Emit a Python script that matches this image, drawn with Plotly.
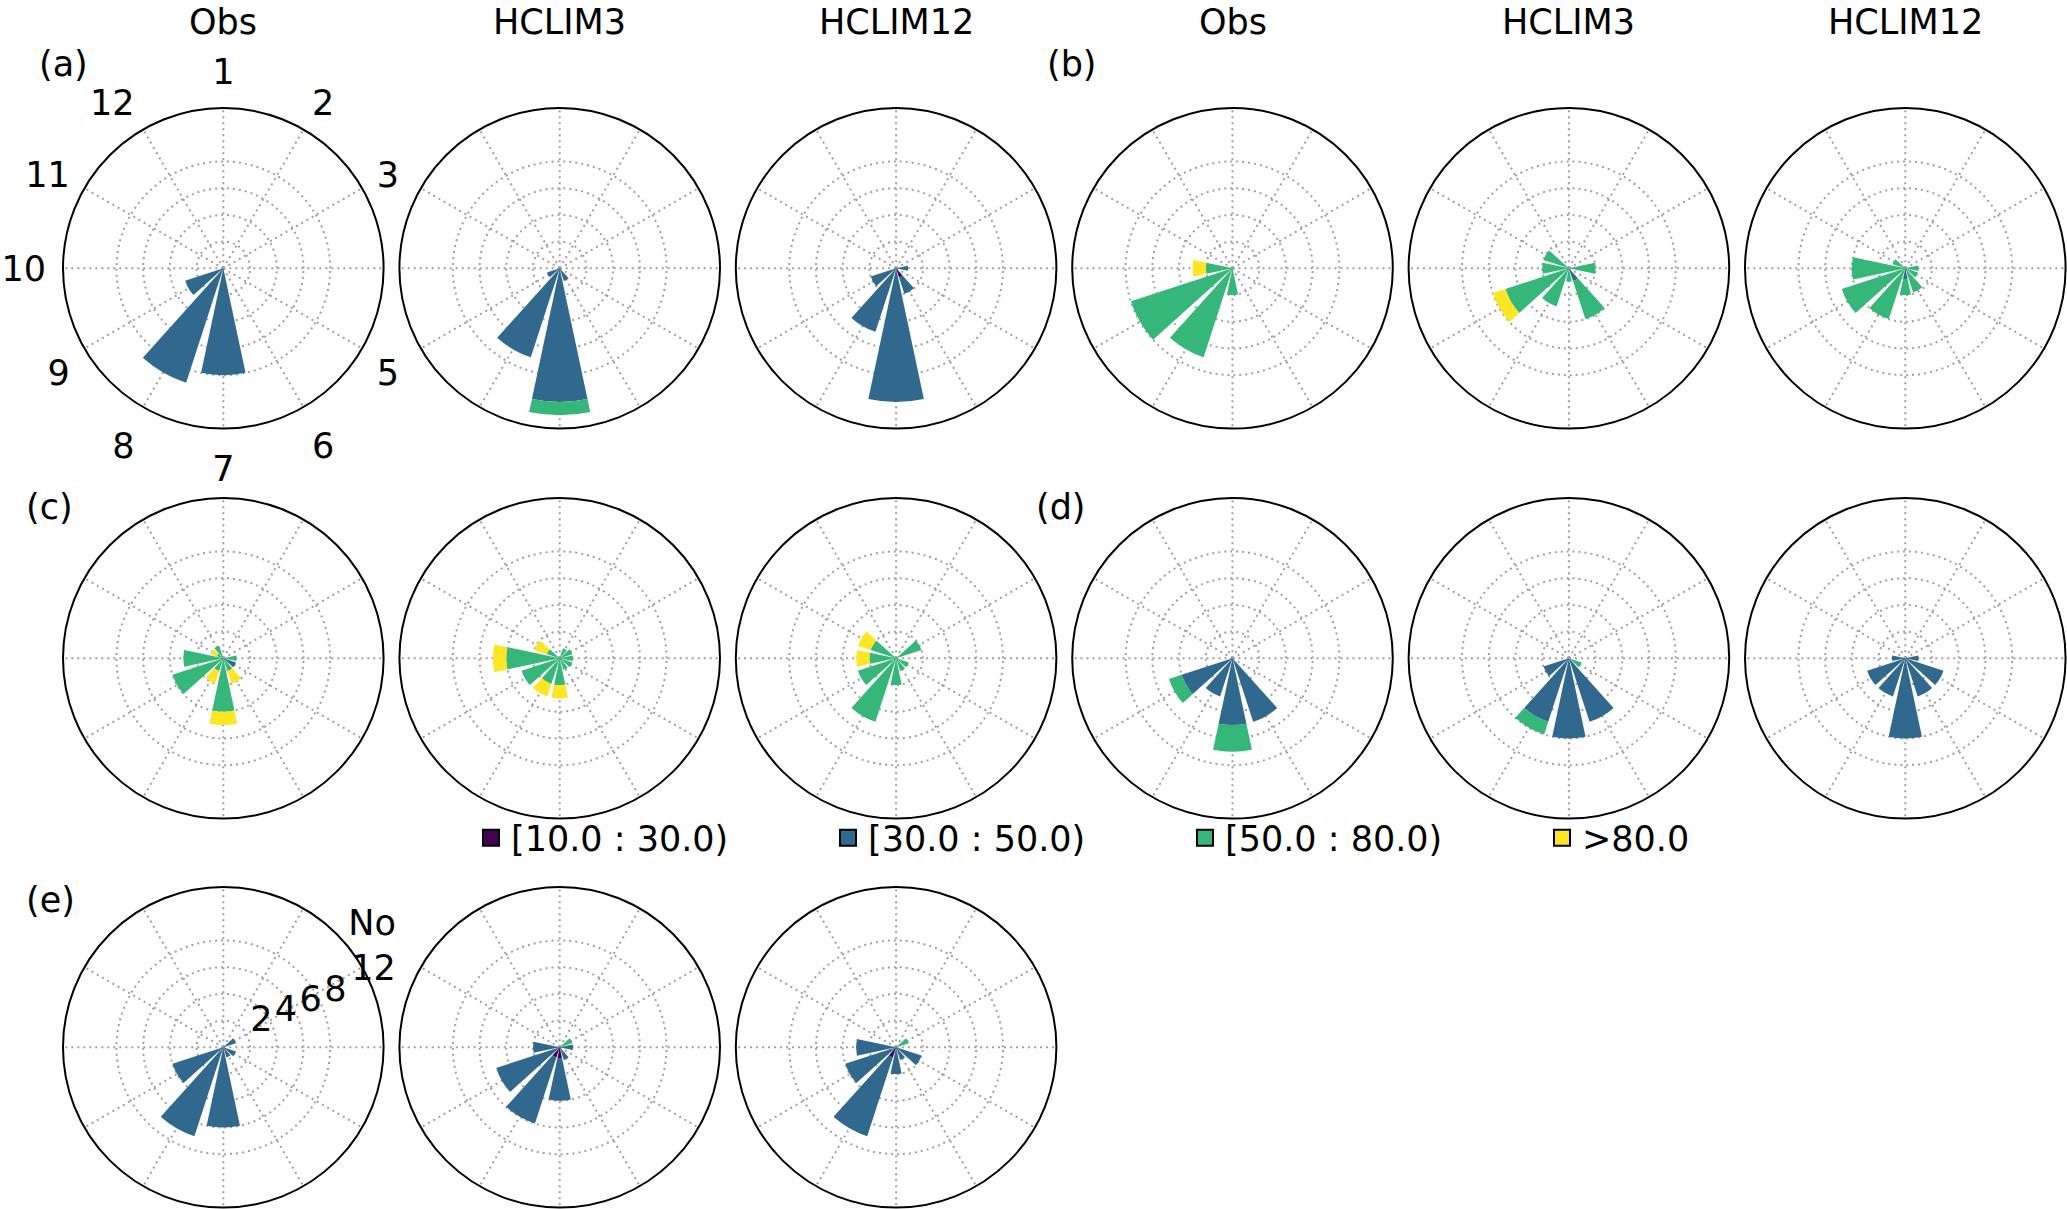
import plotly.graph_objects as go

# ---------------- data ----------------
SECTOR_LABELS = ["1", "2", "3", "", "5", "6", "7", "8", "9", "10", "11", "12"]  # "4" hidden behind next panel
SECTORS = list(range(1, 13))
CATEGORIES = ["[10.0 : 30.0)", "[30.0 : 50.0)", "[50.0 : 80.0)", ">80.0"]
COLORS = ["#440154", "#31688e", "#35b779", "#fde725"]
MODELS = ["Obs", "HCLIM3", "HCLIM12"]
PANEL_LETTERS = ["(a)", "(b)", "(c)", "(d)", "(e)"]
RADIAL_TICKS = [2, 4, 6, 8]
RADIAL_TOP_TICK = 12
RADIAL_TOP_LABEL = ["No", "12"]

Z = [0] * 12
#                 1  2  3  4    5    6    7    8    9   10   11   12
A_OBS_30 = [0, 0, 0, 0, 0, 0, 8, 9, 3, 0, 0, 0]
A_H3_30 = [0, 0, 0, 0, 0, 1, 10, 7, 1, 0, 0, 0]
A_H3_50 = [0, 0, 0, 0, 0, 0, 1, 0, 0, 0, 0, 0]
A_H12_10 = [0, 0, 0, 0, 0, 0.7, 0, 0, 0, 0, 0, 0]
A_H12_30 = [0, 0, 0, 0.9, 0, 1.3, 10, 5, 2, 0, 0, 0]

B_OBS_50 = [0, 0, 0, 0, 0, 0, 2, 7, 8, 2, 0, 0]
B_OBS_80 = [0, 0, 0, 0, 0, 0, 0, 0, 0, 1, 0, 0]
B_H3_30 = [0, 0, 0, 0, 0, 1, 0, 0, 0, 0, 0, 0]
B_H3_50 = [0, 0, 0, 2, 0, 3, 1, 3, 5, 2, 2, 0]
B_H3_80 = [0, 0, 0, 0, 0, 0, 0, 0, 1, 0, 0, 0]
B_H12_30 = [0, 0, 0, 0, 0, 0, 0.8, 0, 0, 0, 0, 0]
B_H12_50 = [0, 0, 0, 1, 1, 1.9, 1.2, 4, 5, 4, 1, 0]

C_OBS_30 = [0, 0, 0, 0, 1, 0, 0, 0, 0, 0, 0, 0]
C_OBS_50 = [0, 0, 0, 1, 0, 1, 4, 1, 4, 3, 0.5, 1]
C_OBS_80 = [0, 0, 0, 0, 0, 1, 1, 1, 0, 0, 0.5, 0]
C_H3_50 = [0, 0.8, 1, 1, 1, 0.9, 2, 2, 3, 4, 1, 0]
C_H3_80 = [0, 0, 0, 0, 0, 0, 1, 1, 0, 1, 1, 0]
C_H12_50 = [0, 0, 2, 0, 1, 1, 2, 5, 3, 2, 2, 0]
C_H12_80 = [0, 0, 0, 0, 0, 0, 0, 0, 0, 1, 1, 0]

D_OBS_30 = [0, 0, 0, 0, 0, 5, 5, 3, 4, 0, 0, 0]
D_OBS_50 = [0, 0, 0, 0, 0, 0, 2, 0, 1, 0, 0, 0]
D_H3_30 = [0, 0, 0, 0, 0, 5, 6, 5, 2, 0, 0, 0]
D_H3_50 = [0, 0, 0, 0, 1, 0, 0, 1, 0, 0, 0, 0]
D_H12_30 = [0, 0, 0, 1, 3, 3, 6, 3, 3, 1, 0, 0]

E_OBS_30 = [0, 0, 1, 0, 1, 0.8, 6, 7, 4, 0, 0, 0]
E_H3_10 = [0, 0, 0, 0, 0, 0, 0.8, 0.8, 0, 0, 0, 0]
E_H3_30 = [0, 0, 0, 1, 0, 1, 3.2, 5.2, 5, 2, 0, 0]
E_H3_50 = [0, 0, 1, 0, 0, 0, 0, 0, 0, 0, 0, 0]
E_H12_10 = [0, 0, 0, 0, 0, 0, 0, 0.8, 0, 0, 0, 0]
E_H12_30 = [0, 0, 0, 0, 2, 1, 2, 6.2, 4, 3, 0, 0]
E_H12_50 = [0, 0, 1, 0, 0, 0, 0, 0, 0, 0, 0, 0]

# panels in reading order: (row, col) -> four category series
PANELS = [
    (0, 0, [Z, A_OBS_30, Z, Z]),
    (0, 1, [Z, A_H3_30, A_H3_50, Z]),
    (0, 2, [A_H12_10, A_H12_30, Z, Z]),
    (0, 3, [Z, Z, B_OBS_50, B_OBS_80]),
    (0, 4, [Z, B_H3_30, B_H3_50, B_H3_80]),
    (0, 5, [Z, B_H12_30, B_H12_50, Z]),
    (1, 0, [Z, C_OBS_30, C_OBS_50, C_OBS_80]),
    (1, 1, [Z, Z, C_H3_50, C_H3_80]),
    (1, 2, [Z, Z, C_H12_50, C_H12_80]),
    (1, 3, [Z, D_OBS_30, D_OBS_50, Z]),
    (1, 4, [Z, D_H3_30, D_H3_50, Z]),
    (1, 5, [Z, D_H12_30, Z, Z]),
    (2, 0, [Z, E_OBS_30, Z, Z]),
    (2, 1, [E_H3_10, E_H3_30, E_H3_50, Z]),
    (2, 2, [E_H12_10, E_H12_30, E_H12_50, Z]),
]

# ---------------- layout constants ----------------
W, H = 2067, 1209
R = 160.3
CX0, DCX = 223.3, 336.4
CY = [268.3, 658.3, 1047.3]
FONT = "DejaVu Sans"
FS = 35
GRID = "#a0a0a0"
DASH = "2px,4px"
RLABEL_SHIFT = 34  # px: radial tick labels sit right of the rlabel line (matplotlib style)

theta = [(s - 1) * 30 for s in SECTORS]


def dom(cx, cy):
    return dict(x=[(cx - R) / W, (cx + R) / W], y=[1 - (cy + R) / H, 1 - (cy - R) / H])


fig = go.Figure()
layout = dict(
    width=W, height=H,
    margin=dict(l=0, r=0, t=0, b=0, pad=0, autoexpand=False),
    paper_bgcolor="white", plot_bgcolor="white",
    font=dict(family=FONT, size=FS, color="black"),
    showlegend=True,
)

for i, (row, col, series) in enumerate(PANELS):
    name = "polar" if i == 0 else f"polar{i + 1}"
    cx = CX0 + DCX * col
    cy = CY[row]
    first = (i == 0)
    layout[name] = dict(
        domain=dom(cx, cy),
        bgcolor="white",
        barmode="stack",
        angularaxis=dict(
            rotation=90, direction="clockwise",
            tickmode="array", tickvals=theta, ticktext=SECTOR_LABELS,
            showticklabels=first,
            ticks="outside" if first else "", ticklen=9, tickcolor="rgba(0,0,0,0)",
            tickfont=dict(family=FONT, size=FS, color="black"),
            showgrid=True, gridcolor=GRID, griddash=DASH, gridwidth=1.6,
            showline=True, linecolor="black", linewidth=2,
        ),
        radialaxis=dict(
            range=[0, 12],
            tickmode="array", tickvals=RADIAL_TICKS,
            showticklabels=False,
            angle=22.5, ticks="", showline=False,
            showgrid=True, gridcolor=GRID, griddash=DASH, gridwidth=1.6,
        ),
    )
    for k, vals in enumerate(series):
        if not any(vals):
            continue
        fig.add_trace(go.Barpolar(
            r=vals, theta=theta, width=[24] * 12,
            marker=dict(color=COLORS[k], line=dict(width=0)),
            subplot=name, showlegend=False, name=CATEGORIES[k],
        ))

# transparent overlay polar carrying the radial tick labels of panel (e) Obs
lab_name = f"polar{len(PANELS) + 1}"
layout[lab_name] = dict(
    domain=dom(CX0 + RLABEL_SHIFT, CY[2]),
    bgcolor="rgba(0,0,0,0)",
    angularaxis=dict(rotation=90, direction="clockwise", showline=False, showgrid=False,
                     showticklabels=False, ticks=""),
    radialaxis=dict(
        range=[0, 12], tickmode="array",
        tickvals=RADIAL_TICKS + [RADIAL_TOP_TICK],
        ticktext=[str(v) for v in RADIAL_TICKS] + ["<br>".join(RADIAL_TOP_LABEL)],
        showticklabels=True, angle=22.5, side="counterclockwise", tickangle=22.5,
        tickfont=dict(family=FONT, size=FS, color="black"),
        ticks="", showline=False, showgrid=False,
    ),
)
fig.add_trace(go.Scatterpolar(r=[None], theta=[None], mode="markers", subplot=lab_name,
                              showlegend=False, hoverinfo="skip"))

# legend entries
for k, cat in enumerate(CATEGORIES):
    fig.add_trace(go.Scatterpolar(
        r=[None], theta=[None], mode="markers", name=cat, subplot="polar",
        marker=dict(symbol="square", size=22, color=COLORS[k], line=dict(color="black", width=2)),
        showlegend=True,
    ))

layout["legend"] = dict(
    orientation="h", x=471 / W, xanchor="left", y=1 - 838 / H, yanchor="middle",
    font=dict(family=FONT, size=FS, color="black"),
    entrywidth=312, entrywidthmode="pixels", bgcolor="rgba(0,0,0,0)",
    itemclick=False, itemdoubleclick=False,
)

annotations = []
for g in range(2):
    for m, model in enumerate(MODELS):
        cx = CX0 + DCX * (3 * g + m)
        annotations.append(dict(text=model, x=cx / W, y=1, xref="paper", yref="paper",
                                xanchor="center", yanchor="top", showarrow=False,
                                font=dict(family=FONT, size=FS, color="black")))
LETTER_POS = [(63, 64), (1072, 64), (49, 507), (1061, 507), (50, 900)]
for letter, (lx, ly) in zip(PANEL_LETTERS, LETTER_POS):
    annotations.append(dict(text=letter, x=lx / W, y=1 - ly / H, xref="paper", yref="paper",
                            xanchor="center", yanchor="middle", showarrow=False,
                            font=dict(family=FONT, size=FS, color="black")))
layout["annotations"] = annotations

fig.update_layout(**layout)
fig.write_html(
    "out.html",
    config={"displayModeBar": False},
    post_script="document.body.style.margin='0';document.body.style.padding='0';",
)
